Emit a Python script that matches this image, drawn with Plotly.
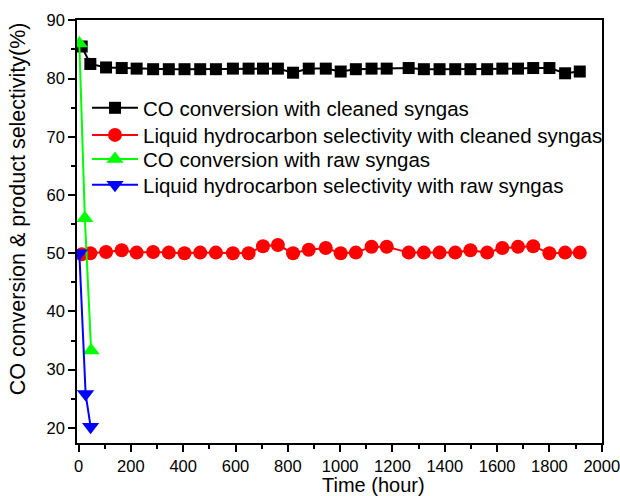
import plotly.graph_objects as go

# Time grid (hours) shared by the cleaned-syngas series
time_clean = [12, 45, 105, 165, 222, 285, 345, 405, 465, 525, 590, 650, 705, 762, 820,
              880, 945, 1002, 1060, 1120, 1178, 1262, 1320, 1380, 1440, 1498, 1562,
              1620, 1680, 1738, 1800, 1860, 1916]
co_conv_clean = [85.5, 82.5, 81.9, 81.8, 81.7, 81.6, 81.6, 81.6, 81.6, 81.6, 81.7, 81.7,
                 81.7, 81.7, 81.0, 81.7, 81.7, 81.2, 81.6, 81.7, 81.7, 81.8, 81.6, 81.6,
                 81.6, 81.6, 81.6, 81.7, 81.7, 81.8, 81.8, 80.9, 81.2]
liq_sel_clean = [49.8, 50.0, 50.2, 50.5, 50.1, 50.2, 50.1, 50.0, 50.1, 50.1, 50.0, 50.0,
                 51.2, 51.4, 50.0, 50.6, 50.9, 50.0, 50.1, 51.1, 51.1, 50.1, 50.1, 50.1,
                 50.1, 50.5, 50.1, 50.9, 51.1, 51.2, 50.0, 50.1, 50.1]

time_raw_co = [3, 24, 48]
co_conv_raw = [86.0, 56.0, 33.3]
time_raw_liq = [3, 27, 46]
liq_sel_raw = [50.0, 25.8, 20.2]

names = ["CO conversion with cleaned syngas",
         "Liquid hydrocarbon selectivity with cleaned syngas",
         "CO conversion with raw syngas",
         "Liquid hydrocarbon selectivity with raw syngas"]

x_ticks = list(range(0, 2001, 200))
y_ticks = list(range(20, 91, 10))

fig = go.Figure()
fig.add_trace(go.Scatter(x=time_clean, y=co_conv_clean, mode="lines+markers", name=names[0],
                         line=dict(color="black", width=2), legend="legend",
                         marker=dict(symbol="square", size=12, color="black")))
fig.add_trace(go.Scatter(x=time_clean, y=liq_sel_clean, mode="lines+markers", name=names[1],
                         line=dict(color="#ff0000", width=2), legend="legend2",
                         marker=dict(symbol="circle", size=14, color="#ff0000")))
fig.add_trace(go.Scatter(x=time_raw_co, y=co_conv_raw, mode="lines+markers", name=names[2],
                         line=dict(color="#00ff00", width=2), legend="legend3",
                         marker=dict(symbol="triangle-up", size=15, color="#00ff00")))
fig.add_trace(go.Scatter(x=time_raw_liq, y=liq_sel_raw, mode="lines+markers", name=names[3],
                         line=dict(color="#0000ff", width=2), legend="legend4",
                         marker=dict(symbol="triangle-down", size=15, color="#0000ff")))

axis_common = dict(showgrid=False, zeroline=False, showline=True, linecolor="black",
                   linewidth=1.5, mirror=True, ticks="outside", ticklen=7, tickwidth=1.5,
                   tickcolor="black", tickfont=dict(size=16.5, color="black"),
                   ticklabeloverflow="allow", automargin=False)

fig.update_xaxes(range=[-6, 2001], tickvals=x_ticks, ticktext=[str(v) for v in x_ticks],
                 minor=dict(dtick=100, ticks="outside", ticklen=4, tickwidth=1.5,
                            tickcolor="black"),
                 **axis_common)
fig.update_yaxes(range=[17.4, 90.05], tickvals=y_ticks, ticktext=[str(v) for v in y_ticks],
                 minor=dict(dtick=5, ticks="outside", ticklen=4, tickwidth=1.5,
                            tickcolor="black"),
                 **axis_common)


def legend_at(ypos):
    return dict(x=0.019, y=ypos, xanchor="left", yanchor="middle",
                bgcolor="rgba(0,0,0,0)", borderwidth=0,
                font=dict(size=20.5, color="black"), itemwidth=46)


fig.update_layout(
    width=620, height=496,
    margin=dict(l=77, r=18, t=20, b=53, autoexpand=False),
    plot_bgcolor="white", paper_bgcolor="white",
    font=dict(family="Liberation Sans, Arial, sans-serif", color="black"),
    showlegend=True,
    legend=legend_at(0.792),
    legend2=legend_at(0.728),
    legend3=legend_at(0.671),
    legend4=legend_at(0.610),
    annotations=[
        dict(text="Time (hour)", xref="paper", yref="paper", x=0.564, y=-0.1,
             xanchor="center", yanchor="middle", showarrow=False,
             font=dict(size=20, color="black")),
        dict(text="CO conversion & product selectivity(%)", xref="paper", yref="paper",
             x=-0.112, y=0.553, xanchor="center", yanchor="middle", showarrow=False,
             textangle=-90, font=dict(size=21.5, color="black")),
    ],
)

# remove the default 8px page margin so the figure sits at the window's top-left corner
fig.write_html(
    "out.html",
    config={"displayModeBar": False},
    post_script="document.body.style.margin='0';document.body.style.padding='0';"
                "document.documentElement.style.overflow='hidden';",
)
